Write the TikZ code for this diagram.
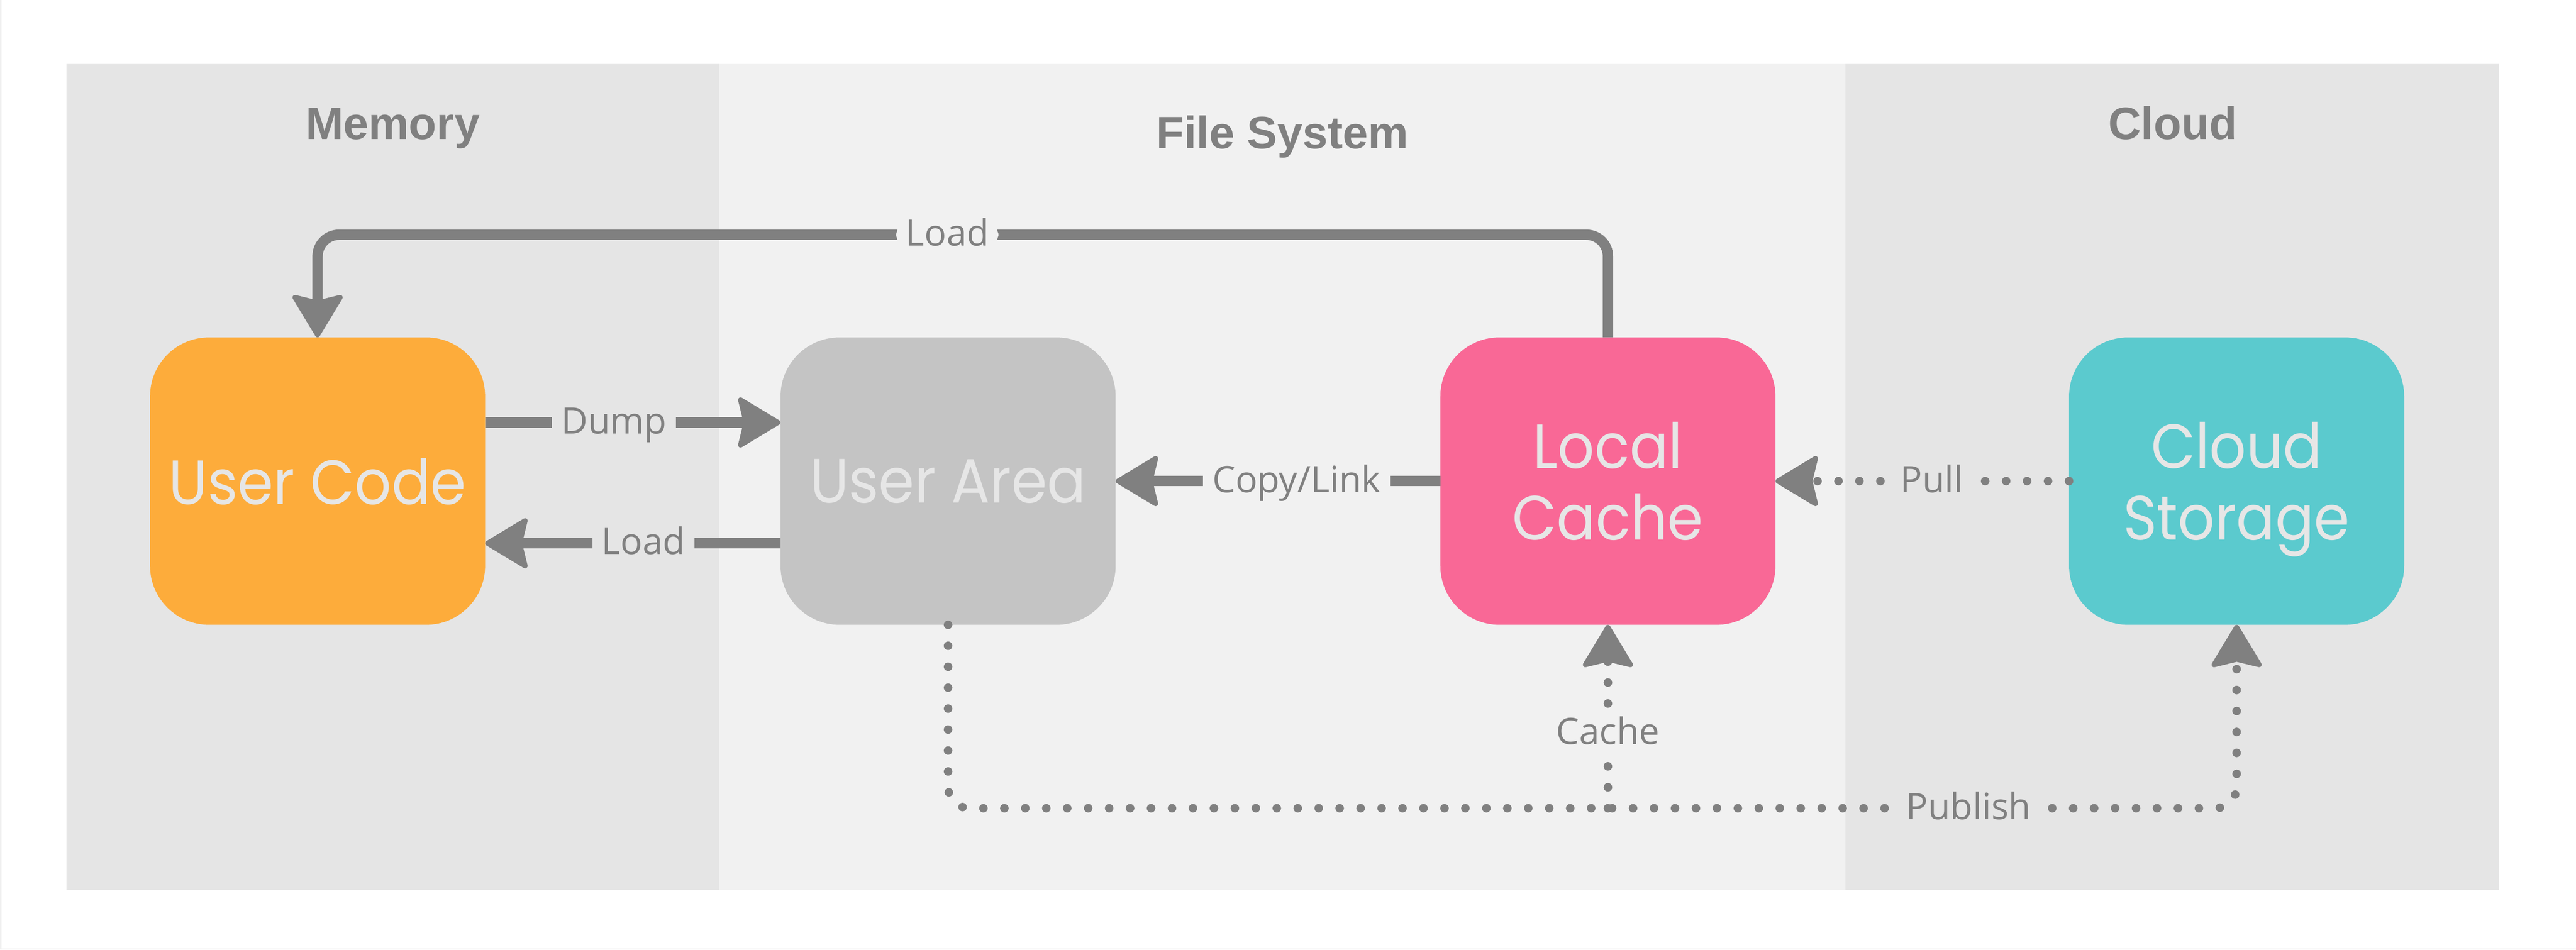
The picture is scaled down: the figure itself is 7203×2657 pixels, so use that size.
\documentclass[tikz,border=0pt]{standalone}
\usepackage{fontspec}
\setmainfont{Open Sans}
\newfontfamily\titlefont{Liberation Sans}
\newfontfamily\boxfont{Poppins}[FakeStretch=0.92]
\usetikzlibrary{arrows.meta}
\definecolor{memcol}{HTML}{E5E5E5}
\definecolor{fscol}{HTML}{F1F1F1}
\definecolor{linecol}{HTML}{808080}
\definecolor{orangec}{HTML}{FDAC3B}
\definecolor{grayc}{HTML}{C4C4C4}
\definecolor{pinkc}{HTML}{F96896}
\definecolor{tealc}{HTML}{5BCACE}
\definecolor{txtc}{HTML}{E6E6E6}
\definecolor{framec}{HTML}{EFEFEF}
\tikzset{
  bigtip/.tip={Stealth[length=128pt, width=153pt, inset=18pt, round, line width=14pt]},
  paneltitle/.style={text=linecol, font=\titlefont\bfseries\fontsize{127}{127}\selectfont, anchor=base, inner sep=0pt},
  box/.style={fill=#1, rounded corners=165pt, minimum width=937pt, minimum height=804pt, text=txtc,
    font=\boxfont\fontsize{175}{200}\selectfont, align=center, text depth=0pt, inner sep=0pt},
  lbl/.style={fill=#1, text=linecol, font=\fontsize{102}{110}\selectfont, inner xsep=26pt, inner ysep=5pt,
    text height=80pt, text depth=17pt},
  solidarrow/.style={draw=linecol, line width=29pt, -bigtip},
  dotarrow/.style={draw=linecol, line width=24pt, line cap=round, dash pattern=on 0pt off 58.6pt, -bigtip},
}
\begin{document}
\begin{tikzpicture}[x=1pt,y=-1pt]
\useasboundingbox (0,0) rectangle (7203,2657);
\fill[white] (0,0) rectangle (7203,2657);
\fill[framec] (0,0) rectangle (4,2657);
\fill[framec] (0,2653) rectangle (7203,2657);
% panels
\fill[memcol] (186,177) rectangle (2011,2490);
\fill[fscol] (2011,177) rectangle (5160,2490);
\fill[memcol] (5160,177) rectangle (6988,2490);
\node[paneltitle] (tmem) at (1098,390) {Memory};
\node[paneltitle] (tfs) at (3586,416) {File System};
\node[paneltitle] (tcloud) at (6075,390) {Cloud};
% boxes
\node[box=orangec] (uc) at (888,1346) {User Code};
\node[box=grayc] (ua) at (2651,1346) {User Area};
\node[box=pinkc] (lc) at (4496,1346) {Local\\Cache};
\node[box=tealc] (cs) at (6254,1346) {Cloud\\Storage};
% connectors
\draw[solidarrow, rounded corners=60pt] (lc.north) -- ++(0,-287) -| node[lbl=fscol, pos=0.256] {Load} (uc.north);
\draw[solidarrow] ([yshift=164pt]uc.east) -- node[lbl=memcol, pos=0.436] {Dump} ([yshift=164pt]ua.west);
\draw[solidarrow] ([yshift=-174pt]ua.west) -- node[lbl=memcol, pos=0.464] {Load} ([yshift=-174pt]uc.east);
\draw[solidarrow] (lc.west) -- node[lbl=fscol, pos=0.443] {Copy/Link} (ua.east);
\draw[dotarrow] (cs.west) -- node[lbl=memcol, pos=0.468] {Pull} (lc.east);
\coordinate (pbend) at ([yshift=-513pt]ua.south);
\coordinate (cj) at (lc.south |- pbend);
\draw[dotarrow, rounded corners=60pt] (ua.south) -- (pbend) -| node[lbl=memcol, pos=0.396] {Publish} (cs.south);
\draw[dotarrow] (cj) -- node[lbl=fscol, pos=0.41] {Cache} (lc.south);
\end{tikzpicture}
\end{document}
